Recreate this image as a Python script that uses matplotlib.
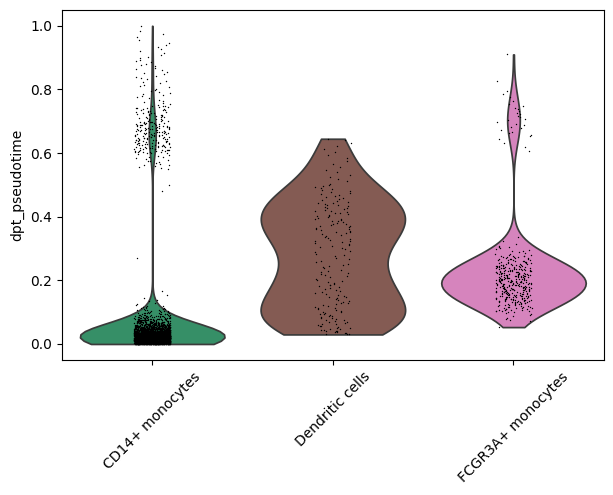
import numpy as np
import pandas as pd
import matplotlib
matplotlib.use("Agg")
import matplotlib.pyplot as plt
import seaborn as sns

categories = ["CD14+ monocytes", "Dendritic cells", "FCGR3A+ monocytes"]
palette = ["#279e68", "#8c564b", "#e377c2"]

# histograms: (bin_lo, bin_hi, count)
cd14_bins = [
    (0.00, 0.00, 1),
    (0.00, 0.01, 650), (0.01, 0.02, 650), (0.02, 0.03, 550), (0.03, 0.04, 400),
    (0.04, 0.05, 250), (0.05, 0.06, 150), (0.06, 0.07, 90), (0.07, 0.08, 60),
    (0.08, 0.09, 35), (0.09, 0.10, 20), (0.10, 0.11, 12), (0.11, 0.12, 8),
    (0.12, 0.14, 5), (0.14, 0.17, 3),
    (0.27, 0.27, 1), (0.48, 0.48, 1), (0.50, 0.50, 1),
    (0.55, 0.60, 20), (0.60, 0.65, 70), (0.65, 0.70, 75), (0.70, 0.75, 40),
    (0.75, 0.80, 15), (0.80, 0.85, 12), (0.85, 0.90, 12), (0.90, 0.95, 8),
    (0.95, 0.99, 4), (1.00, 1.00, 1),
]
dc_bins = [
    (0.03, 0.03, 1),
    (0.03, 0.05, 14), (0.05, 0.10, 24), (0.10, 0.15, 19), (0.15, 0.20, 17),
    (0.20, 0.25, 14), (0.25, 0.30, 11), (0.30, 0.35, 17), (0.35, 0.40, 22),
    (0.40, 0.45, 22), (0.45, 0.50, 16), (0.50, 0.55, 7), (0.55, 0.60, 5),
    (0.60, 0.645, 5), (0.645, 0.645, 1),
]
fc_bins = [
    (0.053, 0.053, 1),
    (0.07, 0.10, 8), (0.10, 0.13, 35), (0.13, 0.16, 60), (0.16, 0.19, 65),
    (0.19, 0.22, 70), (0.22, 0.25, 60), (0.25, 0.28, 35), (0.28, 0.31, 12),
    (0.31, 0.34, 3),
    (0.60, 0.65, 4), (0.65, 0.70, 10), (0.70, 0.75, 10), (0.75, 0.80, 5),
    (0.80, 0.85, 1), (0.91, 0.91, 1),
]


def expand(bins):
    vals = []
    for lo, hi, c in bins:
        for i in range(c):
            vals.append(lo + (i + 0.5) / c * (hi - lo))
    return np.array(vals)


values = [expand(b) for b in [cd14_bins, dc_bins, fc_bins]]
df = pd.DataFrame({
    "group": np.concatenate([[c] * len(v) for c, v in zip(categories, values)]),
    "dpt_pseudotime": np.concatenate(values),
})

fig, ax = plt.subplots(figsize=(6.13, 4.95), dpi=100)
fig.subplots_adjust(left=0.101, right=0.985, top=0.98, bottom=0.273)

sns.violinplot(data=df, x="group", y="dpt_pseudotime", hue="group",
               order=categories, palette=palette, legend=False,
               density_norm="width", cut=0, inner=None, ax=ax)

np.random.seed(0)
sns.stripplot(data=df, x="group", y="dpt_pseudotime", order=categories,
              color="black", size=1, jitter=0.1, linewidth=0, ax=ax, zorder=3)

ax.set_xlim(-0.5, 2.5)
ax.set_ylim(-0.05, 1.05)
ax.set_xlabel("")
ax.set_ylabel("dpt_pseudotime")
ax.set_xticks(range(3))
ax.set_xticklabels(categories, rotation=45)
ax.set_yticks([0.0, 0.2, 0.4, 0.6, 0.8, 1.0])
fig.savefig("out.png", dpi=100)
